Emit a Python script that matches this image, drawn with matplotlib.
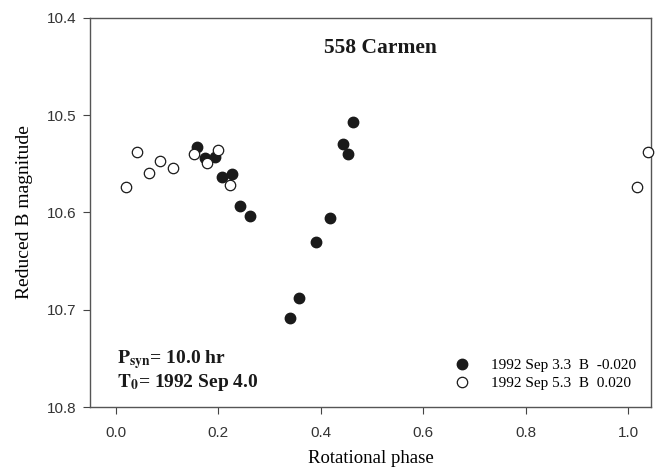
import matplotlib
matplotlib.use("Agg")
import matplotlib.pyplot as plt

# 1992 Sep 3.3 (filled) and 1992 Sep 5.3 (open)
phase_sep3 = [0.158, 0.175, 0.194, 0.208, 0.227, 0.243, 0.262,
              0.341, 0.358, 0.392, 0.418, 0.443, 0.453, 0.464]
mag_sep3 = [10.533, 10.544, 10.543, 10.563, 10.560, 10.593, 10.604,
            10.708, 10.688, 10.630, 10.606, 10.530, 10.540, 10.507]

phase_sep5 = [0.020, 0.042, 0.066, 0.087, 0.111, 0.153, 0.178, 0.200,
              0.224, 1.017, 1.038]
mag_sep5 = [10.574, 10.538, 10.559, 10.547, 10.554, 10.540, 10.549, 10.536,
            10.572, 10.574, 10.538]

labels = ["1992 Sep 3.3  B  -0.020", "1992 Sep 5.3  B  0.020"]
xticks = [0.0, 0.2, 0.4, 0.6, 0.8, 1.0]
yticks = [10.4, 10.5, 10.6, 10.7, 10.8]

plt.rcParams['mathtext.fontset'] = 'stix'
serif = 'Liberation Serif'
sans = 'Liberation Sans'

fig = plt.figure(figsize=(6.59, 4.73), dpi=100)
ax = fig.add_axes([0.1366, 0.1395, 0.8514, 0.8225])

ax.plot(phase_sep3, mag_sep3, 'o', ms=7.5, color='#1a1a1a', mec='#1a1a1a',
        label=labels[0], clip_on=False, zorder=3)
ax.plot(phase_sep5, mag_sep5, 'o', ms=7.5, mfc='white', mec='#1a1a1a',
        mew=0.9, label=labels[1], clip_on=False, zorder=4)

ax.set_xlim(-0.05, 1.045)
ax.set_ylim(10.8, 10.4)
ax.set_xticks(xticks)
ax.set_yticks(yticks)
ax.set_xticklabels([f"{t:.1f}" for t in xticks], family=sans, fontsize=11, color='#333333')
ax.set_yticklabels([f"{t:.1f}" for t in yticks], family=sans, fontsize=11, color='#333333')
ax.tick_params(direction='out', length=5, width=0.8, color='#444444')
ax.tick_params(axis='x', pad=9)
ax.tick_params(axis='y', pad=5)
for sp in ax.spines.values():
    sp.set_color('#555555')
    sp.set_linewidth(1.0)

ax.set_xlabel("Rotational phase", family=serif, fontsize=13.5, labelpad=7)
ax.set_ylabel("Reduced B magnitude", family=serif, fontsize=14, labelpad=10)

ax.text(0.517, 0.923, "558 Carmen", transform=ax.transAxes, ha='center',
        va='center', family=serif, fontweight='bold', fontsize=15.5, color='#1a1a1a')
ax.text(0.0476, 0.113, r"$\mathbf{P}_{\mathbf{syn}}$= 10.0 hr", transform=ax.transAxes,
        ha='left', va='baseline', family=serif, fontweight='bold', fontsize=14, color='#1a1a1a')
ax.text(0.0476, 0.0514, r"$\mathbf{T}_{\mathbf{0}}$= 1992 Sep 4.0", transform=ax.transAxes,
        ha='left', va='baseline', family=serif, fontweight='bold', fontsize=14, color='#1a1a1a')

leg = ax.legend(loc='lower right', bbox_to_anchor=(0.993, 0.015), frameon=False,
                prop={'family': serif, 'size': 11}, handlelength=0.8,
                handletextpad=1.5, labelspacing=0.3, borderpad=0.2)

fig.savefig("out.png", dpi=100)
